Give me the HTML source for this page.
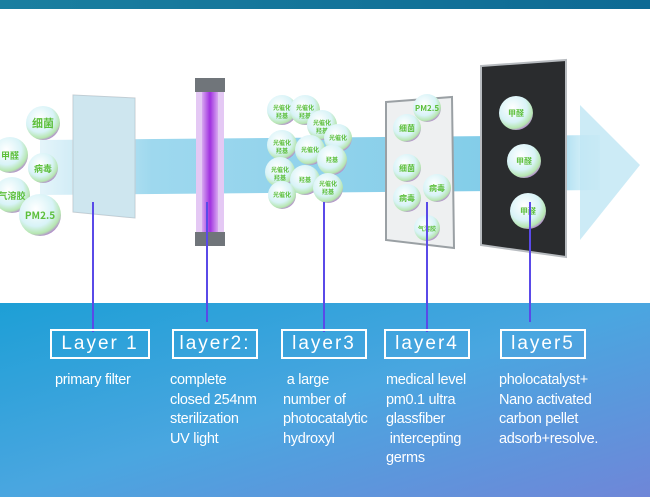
<!DOCTYPE html>
<html><head><meta charset="utf-8"><style>
body{margin:0;width:650px;height:497px;overflow:hidden;font-family:"Liberation Sans","Noto Sans CJK SC",sans-serif}
.t{position:absolute;color:#fff;font-size:14.5px;line-height:19.5px;white-space:pre;letter-spacing:-0.3px}
.b{position:absolute;border:2px solid #fff;color:#fff;font-size:19px;letter-spacing:2px;text-align:center;line-height:26px;height:26px;box-sizing:content-box}
</style></head><body>
<svg width="650" height="497" style="position:absolute;left:0;top:0" font-family="Noto Sans CJK SC,sans-serif">
<defs>
<linearGradient id="top" x1="0" x2="1"><stop offset="0" stop-color="#1a7fa0"/><stop offset="1" stop-color="#0e6a94"/></linearGradient>
<linearGradient id="bot" x1="0" y1="0" x2="1" y2="1"><stop offset="0" stop-color="#1d9fd6"/><stop offset="0.5" stop-color="#4aa6e0"/><stop offset="1" stop-color="#6f86d8"/></linearGradient>
<linearGradient id="flow" x1="0" x2="1"><stop offset="0" stop-color="#a8dcee" stop-opacity="0.3"/><stop offset="0.2" stop-color="#9ed8ee"/><stop offset="0.9" stop-color="#7ecbe8"/><stop offset="1" stop-color="#c8ecf7" stop-opacity="0.4"/></linearGradient>
<radialGradient id="bub" cx="0.4" cy="0.35" r="0.7"><stop offset="0" stop-color="#ffffff"/><stop offset="0.6" stop-color="#d8f3f7"/><stop offset="0.85" stop-color="#b6e6b0"/><stop offset="1" stop-color="#b06ad6"/></radialGradient>
<linearGradient id="uv" x1="0" x2="1"><stop offset="0" stop-color="#d8a8f0"/><stop offset="0.5" stop-color="#a030e0"/><stop offset="1" stop-color="#d8a8f0"/></linearGradient>
</defs>
<rect width="650" height="305" fill="#fff"/>
<rect width="650" height="9" fill="url(#top)"/>
<rect y="303" width="650" height="194" fill="url(#bot)"/>
<path d="M40 140 L600 135 L600 190 L40 195 Z" fill="url(#flow)"/>
<path d="M580 105 L640 165 L580 240 Z" fill="#bfe6f4" opacity="0.8"/>
<path d="M73 95 L135 98 L135 218 L73 212 Z" fill="#e8eef0" stroke="#c8ccd0"/>
<path d="M73 95 L135 98 L135 218 L73 212 Z" fill="#9ed8ee" opacity="0.35"/>
<rect x="195" y="78" width="30" height="14" fill="#70757a"/>
<rect x="195" y="232" width="30" height="14" fill="#70757a"/>
<rect x="196" y="92" width="28" height="140" fill="#e4c8f4"/>
<rect x="202" y="92" width="16" height="140" fill="url(#uv)"/>
<path d="M386 102 L452 97 L454 248 L386 240 Z" fill="#eef0f1" stroke="#9aa0a4" stroke-width="2"/>
<path d="M481 66 L566 60 L566 257 L481 245 Z" fill="#2a2c2e" stroke="#b8bcc0" stroke-width="2"/>
<g font-weight="bold" fill="#5cbf3a" text-anchor="middle" font-size="11">
<g><circle cx="43" cy="123" r="17" fill="url(#bub)"/><text x="43" y="127">细菌</text></g>
<g><circle cx="10" cy="155" r="18" fill="url(#bub)"/><text x="10" y="159" font-size="9">甲醛</text></g>
<g><circle cx="43" cy="168" r="15" fill="url(#bub)"/><text x="43" y="172" font-size="9">病毒</text></g>
<g><circle cx="12" cy="195" r="18" fill="url(#bub)"/><text x="12" y="199" font-size="9">气溶胶</text></g>
<g><circle cx="40" cy="215" r="21" fill="url(#bub)"/><text x="40" y="219" font-size="10">PM2.5</text></g>
<g font-size="6">
<circle cx="282" cy="110" r="15" fill="url(#bub)"/><text x="282" y="110">光催化</text><text x="282" y="118">羟基</text>
<circle cx="305" cy="110" r="15" fill="url(#bub)"/><text x="305" y="110">光催化</text><text x="305" y="118">羟基</text>
<circle cx="322" cy="125" r="15" fill="url(#bub)"/><text x="322" y="125">光催化</text><text x="322" y="133">羟基</text>
<circle cx="338" cy="138" r="14" fill="url(#bub)"/><text x="338" y="140">光催化</text>
<circle cx="282" cy="145" r="15" fill="url(#bub)"/><text x="282" y="145">光催化</text><text x="282" y="153">羟基</text>
<circle cx="310" cy="150" r="15" fill="url(#bub)"/><text x="310" y="152">光催化</text>
<circle cx="332" cy="160" r="15" fill="url(#bub)"/><text x="332" y="162">羟基</text>
<circle cx="280" cy="172" r="15" fill="url(#bub)"/><text x="280" y="172">光催化</text><text x="280" y="180">羟基</text>
<circle cx="305" cy="180" r="15" fill="url(#bub)"/><text x="305" y="182">羟基</text>
<circle cx="282" cy="195" r="14" fill="url(#bub)"/><text x="282" y="197">光催化</text>
<circle cx="328" cy="188" r="15" fill="url(#bub)"/><text x="328" y="186">光催化</text><text x="328" y="194">羟基</text>
</g>
<g font-size="8">
<circle cx="427" cy="108" r="14" fill="url(#bub)"/><text x="427" y="111">PM2.5</text>
<circle cx="407" cy="128" r="14" fill="url(#bub)"/><text x="407" y="131">细菌</text>
<circle cx="407" cy="168" r="14" fill="url(#bub)"/><text x="407" y="171">细菌</text>
<circle cx="407" cy="198" r="14" fill="url(#bub)"/><text x="407" y="201">病毒</text>
<circle cx="437" cy="188" r="14" fill="url(#bub)"/><text x="437" y="191">病毒</text>
<circle cx="427" cy="228" r="13" fill="url(#bub)"/><text x="427" y="231" font-size="6">气溶胶</text>
<circle cx="516" cy="113" r="17" fill="url(#bub)"/><text x="516" y="116">甲醛</text>
<circle cx="524" cy="161" r="17" fill="url(#bub)"/><text x="524" y="164">甲醛</text>
<circle cx="528" cy="211" r="18" fill="url(#bub)"/><text x="528" y="214">甲醛</text>
</g></g>
<g stroke="#5a4ae8" stroke-width="2">
<line x1="93" y1="202" x2="93" y2="332"/><line x1="207" y1="202" x2="207" y2="322"/>
<line x1="324" y1="202" x2="324" y2="332"/><line x1="427" y1="202" x2="427" y2="332"/>
<line x1="530" y1="202" x2="530" y2="322"/>
</g>
</svg>
<div class="b" style="left:50px;top:329px;width:96px">Layer 1</div>
<div class="b" style="left:172px;top:329px;width:82px">layer2:</div>
<div class="b" style="left:281px;top:329px;width:82px">layer3</div>
<div class="b" style="left:384px;top:329px;width:82px">layer4</div>
<div class="b" style="left:500px;top:329px;width:82px">layer5</div>
<div class="t" style="left:55px;top:371px">primary filter</div>
<div class="t" style="left:170px;top:371px">complete
closed 254nm
sterilization
UV light</div>
<div class="t" style="left:283px;top:371px"> a large
number of
photocatalytic
hydroxyl</div>
<div class="t" style="left:386px;top:371px">medical level
pm0.1 ultra
glassfiber
 intercepting
germs</div>
<div class="t" style="left:499px;top:371px">pholocatalyst+
Nano activated
carbon pellet
adsorb+resolve.</div>
</body></html>
